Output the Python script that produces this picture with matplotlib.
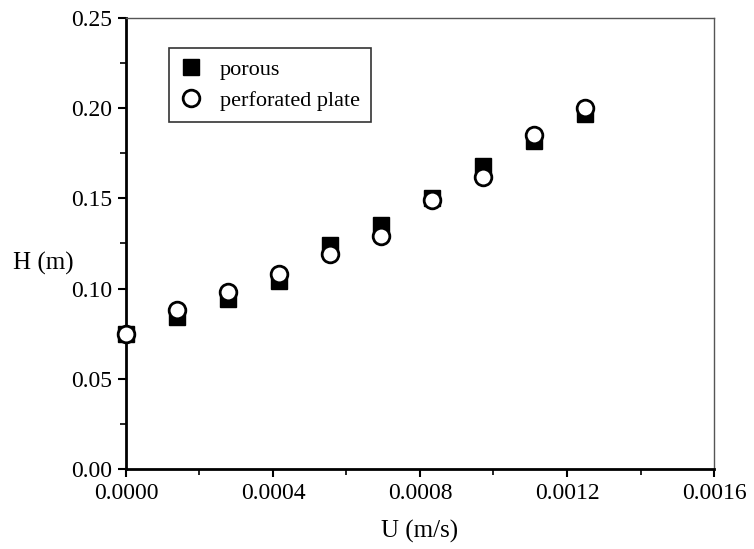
import matplotlib.pyplot as plt
from matplotlib.ticker import MultipleLocator, FormatStrFormatter

U = [0.0, 0.000139, 0.000278, 0.000417, 0.000556, 0.000694,
     0.000833, 0.000972, 0.00111, 0.00125]
H_porous = [0.075, 0.084, 0.094, 0.104, 0.124, 0.135,
            0.150, 0.168, 0.182, 0.197]
H_plate = [0.075, 0.088, 0.098, 0.108, 0.119, 0.129,
           0.149, 0.162, 0.185, 0.200]

plt.rcParams['font.family'] = ['Liberation Serif', 'DejaVu Serif']

fig = plt.figure(figsize=(7.54, 5.49), dpi=100)
ax = fig.add_axes([0.167, 0.146, 0.780, 0.821])

ax.plot(U, H_porous, 's', color='black', markersize=11, label='porous',
        clip_on=False, zorder=3)
ax.plot(U, H_plate, 'o', markerfacecolor='white', markeredgecolor='black',
        markeredgewidth=2, markersize=12, label='perforated plate',
        clip_on=False, zorder=4)

ax.set_xlim(0, 0.0016)
ax.set_ylim(0, 0.25)
ax.xaxis.set_major_locator(MultipleLocator(0.0004))
ax.xaxis.set_minor_locator(MultipleLocator(0.0002))
ax.yaxis.set_major_locator(MultipleLocator(0.05))
ax.yaxis.set_minor_locator(MultipleLocator(0.025))
ax.xaxis.set_major_formatter(FormatStrFormatter('%.4f'))
ax.yaxis.set_major_formatter(FormatStrFormatter('%.2f'))

ax.tick_params(which='major', direction='out', length=6, width=1.5,
               labelsize=17, pad=4)
ax.tick_params(which='minor', direction='out', length=4, width=1.2)

ax.spines['left'].set_linewidth(2)
ax.spines['bottom'].set_linewidth(2)
for s in ['top', 'right']:
    ax.spines[s].set_linewidth(1)
    ax.spines[s].set_color('#555555')

ax.set_xlabel('U (m/s)', fontsize=18, labelpad=12)
ax.set_ylabel('H (m)', fontsize=18, rotation=0, labelpad=30)
ax.yaxis.set_label_coords(-0.14, 0.43)

leg = ax.legend(loc='upper left', bbox_to_anchor=(0.073, 0.933), fontsize=16,
                frameon=True, fancybox=False, edgecolor='black',
                handletextpad=0.8, borderpad=0.5, labelspacing=0.45,
                handlelength=1.0, borderaxespad=0)
leg.get_frame().set_linewidth(1.2)

fig.savefig('out.png', dpi=100)
